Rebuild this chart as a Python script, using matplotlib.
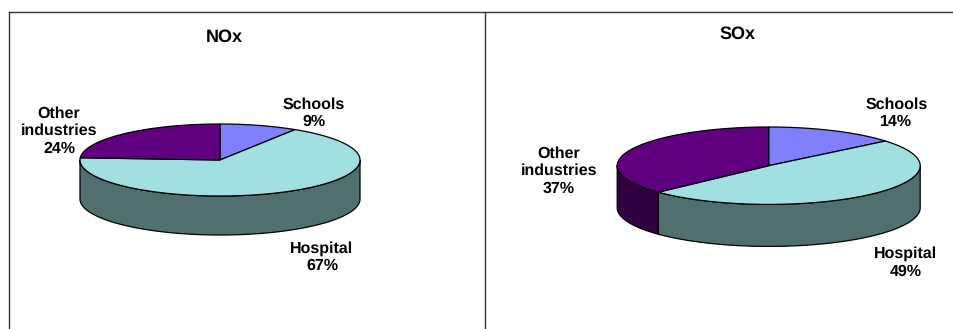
import numpy as np
import matplotlib
matplotlib.use("Agg")
import matplotlib.pyplot as plt
from matplotlib.patches import Polygon

plt.rcParams['font.family'] = ['Liberation Sans', 'DejaVu Sans']
plt.rcParams['text.hinting'] = 'none'
plt.rcParams['text.hinting_factor'] = 1

categories = ["Schools", "Hospital", "Other\nindustries"]
nox_values = [9, 67, 24]
sox_values = [14, 49, 37]
titles = ["NOx", "SOx"]

TOP_COLORS = ["#8080FF", "#A0E0E0", "#600080"]
WALL_COLORS = ["#404080", "#507070", "#300040"]
EDGE = "#000000"

fig = plt.figure(figsize=(9.54, 3.29), dpi=100, facecolor="white")
ax = fig.add_axes([0, 0, 1, 1])
ax.set_xlim(0, 954)
ax.set_ylim(329, 0)
ax.axis("off")


def draw_pie(values, cx, cy, rx, ry, depth, label_pos, title, title_pos):
    total = sum(values)
    edges = np.concatenate([[0], np.cumsum(values)]) / total * 2 * np.pi

    def xy(t):
        return cx + rx * np.sin(t), cy - ry * np.cos(t)

    # Side wall: only the front half of the rim (clock angle 90 to 270 deg)
    for i in range(len(values)):
        a = max(edges[i], np.pi / 2)
        b = min(edges[i + 1], 3 * np.pi / 2)
        if b <= a:
            continue
        t = np.linspace(a, b, 200)
        x, y = xy(t)
        pts = np.column_stack([np.r_[x, x[::-1]], np.r_[y, y[::-1] + depth]])
        ax.add_patch(Polygon(pts, closed=True, fc=WALL_COLORS[i], ec=EDGE,
                             lw=0.9, joinstyle="round", zorder=2))
    # Top face
    for i in range(len(values)):
        t = np.linspace(edges[i], edges[i + 1], 300)
        x, y = xy(t)
        pts = np.column_stack([np.r_[cx, x], np.r_[cy, y]])
        ax.add_patch(Polygon(pts, closed=True, fc=TOP_COLORS[i], ec=EDGE,
                             lw=0.9, joinstyle="round", zorder=3))
    # Labels
    for cat, v, (lx, ly) in zip(categories, values, label_pos):
        ax.text(lx, ly, f"{cat}\n{v}%", ha="center", va="center", ma="center",
                fontsize=11.4, fontweight="bold", color="black",
                linespacing=1.22, zorder=5)
    ax.text(title_pos[0], title_pos[1], title, ha="center", va="center",
            fontsize=13, fontweight="bold", color="black", zorder=5)


draw_pie(nox_values, 220, 160, 140, 36, 39,
         [(314, 113), (322, 257), (59, 131)], titles[0], (224, 37))
draw_pie(sox_values, 768.7, 165.7, 151.5, 38.7, 42,
         [(896.5, 113), (906, 262.5), (559, 171)], titles[1], (737.7, 34))

# Panel frame lines
frame = "#333333"
ax.plot([9.5, 954], [11.5, 11.5], color=frame, lw=1.0, zorder=1)
ax.plot([9.5, 9.5], [11.5, 329], color=frame, lw=1.0, zorder=1)
ax.plot([485, 485], [11.5, 329], color=frame, lw=1.0, zorder=1)

fig.savefig("out.png", dpi=100, facecolor="white")
